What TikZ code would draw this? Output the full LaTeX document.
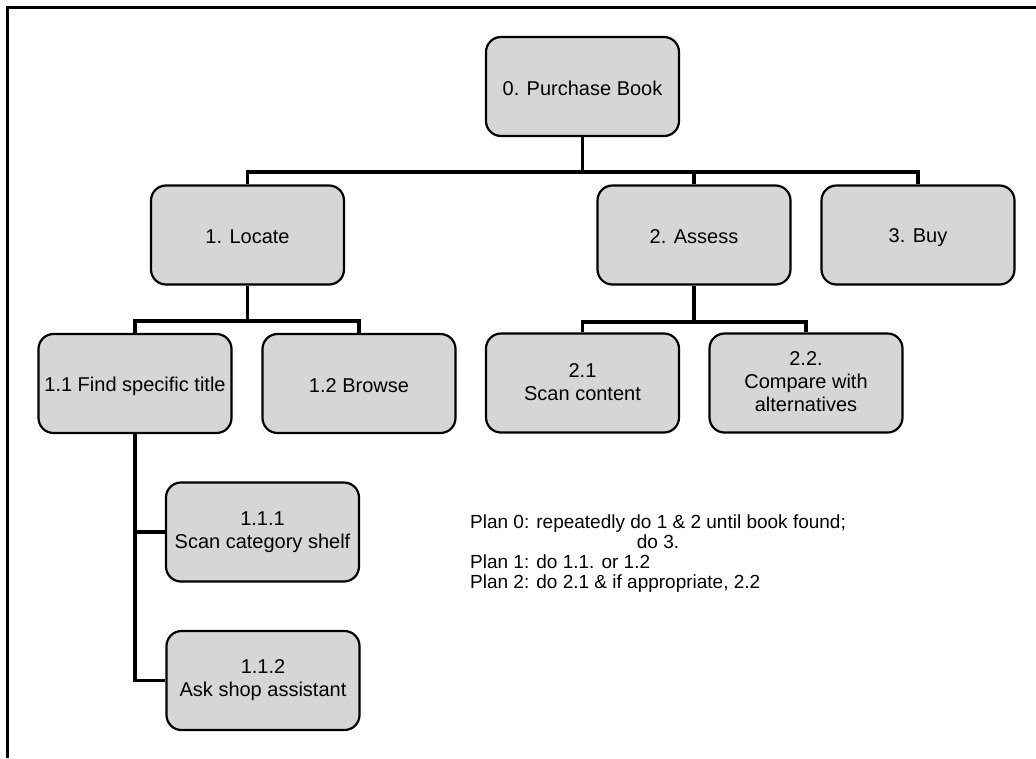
\documentclass[tikz,border=0pt]{standalone}
\usepackage{fontspec}
\setmainfont{Liberation Sans}
\definecolor{boxfill}{HTML}{D6D6D6}
% invisible rules that fix the first-line height and last-line depth in boxes
\newcommand{\toprule}{\rule{0pt}{20pt}}
\newcommand{\botrule}{\rule[-2.6pt]{0pt}{2.6pt}}
\begin{document}
\begin{tikzpicture}[x=1pt,y=-1pt,
  task/.style={draw=black, line width=2.2pt, fill=boxfill, rounded corners=15pt,
    minimum width=193pt, minimum height=99pt, inner sep=0pt, align=center,
    font=\fontsize{20}{23}\selectfont,
    execute at begin node=\toprule, execute at end node=\botrule},
  link/.style={draw=black, line width=3.5pt}]
\useasboundingbox (0,0) rectangle (1036,758);

% outer frame (top and left edges)
\draw[line width=3pt] (7,758) -- (7,7) -- (1036,7);

% task nodes
\node[task] (n0)   at (582.5,86.5) {0. Purchase Book};
\node[task] (n1)   at (247.5,235)  {1. Locate};
\node[task] (n2)   at (694,235)    {2. Assess};
\node[task] (n3)   at (918,235)    {3. Buy};
\node[task] (n11)  at (135,383.5)  {1.1 Find specific title};
\node[task] (n12)  at (359,383.5)  {1.2 Browse};
\node[task] (n21)  at (582.5,383)  {2.1\\Scan content};
\node[task] (n22)  at (806,383)    {2.2.\\Compare with\\alternatives};
\node[task] (n111) at (262.5,532)  {1.1.1\\Scan category shelf};
\node[task] (n112) at (263,680.5)  {1.1.2\\Ask shop assistant};

% branch points
\coordinate (bar0) at (582.5,172);
\coordinate (bar1) at (247.5,321);
\coordinate (bar2) at (694,322);

% connectors
\draw[link] (n0.south) -- (bar0);
\draw[link] (n1.north) |- (bar0) -| (n3.north);
\draw[link] (n2.north) -- (n2.north |- bar0);
\draw[link] (n1.south) -- (bar1);
\draw[link] (n11.north) |- (bar1) -| (n12.north);
\draw[link] (n2.south) -- (bar2);
\draw[link] (n21.north) |- (bar2) -| (n22.north);
\draw[link] (n11.south) |- (n112.west);
\draw[link] (n11.south |- n111.west) -- (n111.west);

% plans
\node[anchor=north west, inner sep=0pt, font=\fontsize{19}{20}\selectfont] (plans) at (470,514) {%
  \begin{tabular}{@{}l@{}}
  Plan 0: repeatedly do 1 \& 2 until book found;\\
  \multicolumn{1}{@{}c@{}}{do 3.}\\
  Plan 1: do 1.1. or 1.2\\
  Plan 2: do 2.1 \& if appropriate, 2.2
  \end{tabular}};
\end{tikzpicture}
\end{document}
